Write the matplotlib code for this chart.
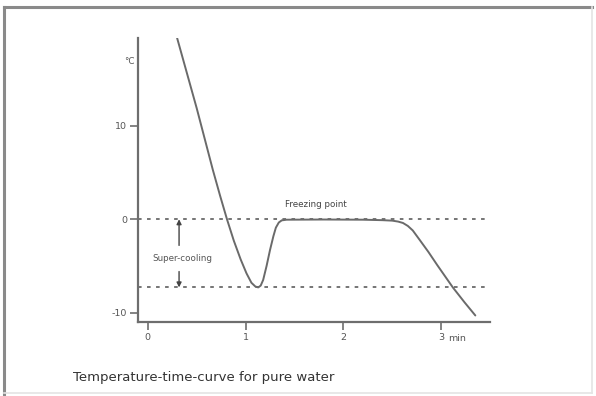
import matplotlib
matplotlib.use("Agg")
import matplotlib.pyplot as plt
from matplotlib.lines import Line2D

plt.rcParams["axes.unicode_minus"] = False

# curve (time in min, temperature in degC)
time_min = [0.30, 0.50, 0.665, 0.74, 0.81, 0.88, 0.95, 1.01, 1.06, 1.10,
            1.13, 1.155, 1.18, 1.215, 1.25, 1.285, 1.31, 1.34, 1.37, 1.42,
            1.8, 2.2, 2.4, 2.5, 2.56, 2.61, 2.66, 2.71, 2.78, 2.87, 2.96,
            3.04, 3.12, 3.24, 3.35]
temp_c = [19.4, 11.9, 5.3, 2.5, 0.0, -2.3, -4.3, -5.8, -6.8, -7.2,
          -7.3, -7.1, -6.5, -5.0, -3.3, -1.8, -0.9, -0.35, -0.12, -0.05,
          -0.03, -0.05, -0.1, -0.15, -0.25, -0.4, -0.72, -1.2, -2.2, -3.5, -4.9,
          -6.1, -7.3, -8.9, -10.3]

freezing_point = 0.0
supercool_min = -7.3
x_ticks = [0, 1, 2, 3]
y_ticks = [-10, 0, 10]

W, H = 596, 396
fig = plt.figure(figsize=(W / 100, H / 100), dpi=100)

# outer frame of the picture
fig.add_artist(Line2D([4 / W, 4 / W], [0, 1 - 7 / H], transform=fig.transFigure,
                      color="#8a8a8a", lw=2.2))
fig.add_artist(Line2D([4 / W, 592 / W], [1 - 7 / H, 1 - 7 / H], transform=fig.transFigure,
                      color="#8a8a8a", lw=2.2))
fig.add_artist(Line2D([592 / W, 592 / W], [3 / H, 1 - 7 / H], transform=fig.transFigure,
                      color="#e4e4e4", lw=1.2))
fig.add_artist(Line2D([4 / W, 592 / W], [3 / H, 3 / H], transform=fig.transFigure,
                      color="#e4e4e4", lw=1.2))

ax = fig.add_axes([138 / W, (H - 322) / H, (490 - 138) / W, (322 - 38) / H])
ax.set_xlim(-0.10, 3.50)
ax.set_ylim(-11.0, 19.4)

for s in ["top", "right"]:
    ax.spines[s].set_visible(False)
for s in ["left", "bottom"]:
    ax.spines[s].set_color("#6e6e6e")
    ax.spines[s].set_linewidth(1.6)

ax.set_xticks(x_ticks)
ax.set_yticks(y_ticks)
ax.tick_params(colors="#6e6e6e", labelcolor="#555555", labelsize=6.8,
               length=6, width=1.2, direction="out")
ax.tick_params(axis="x", pad=2)
ax.tick_params(axis="y", pad=2)

ax.axhline(freezing_point, color="#6a6a6a", lw=1.3, ls=(0, (2, 3)))
ax.axhline(supercool_min, color="#6a6a6a", lw=1.3, ls=(0, (2, 3)))

ax.plot(time_min, temp_c, color="#6a6a6a", lw=1.4, solid_capstyle="round",
        solid_joinstyle="round")

# super-cooling arrows and labels
ax.annotate("", xy=(0.32, 0.0), xytext=(0.32, -2.8),
            arrowprops=dict(arrowstyle="-|>", color="#444444", lw=1.0,
                            mutation_scale=7, shrinkA=0, shrinkB=0))
ax.annotate("", xy=(0.32, supercool_min), xytext=(0.32, -5.6),
            arrowprops=dict(arrowstyle="-|>", color="#444444", lw=1.0,
                            mutation_scale=7, shrinkA=0, shrinkB=0))
ax.text(0.35, -4.2, "Super-cooling", fontsize=6.3, color="#555555",
        ha="center", va="center")
ax.text(1.40, 1.1, "Freezing point", fontsize=6.3, color="#444444",
        ha="left", va="bottom")

ax.text(-0.13, 16.9, "°C", fontsize=6.3, color="#555555", ha="right", va="center")
ax.text(3.07, -12.8, "min", fontsize=6.8, color="#555555", ha="left", va="center",
        clip_on=False)

fig.text(73 / W, 1 - 378 / H, "Temperature-time-curve for pure water",
         fontsize=9.5, color="#333333", ha="left", va="center")

fig.savefig("out.png", dpi=100)
